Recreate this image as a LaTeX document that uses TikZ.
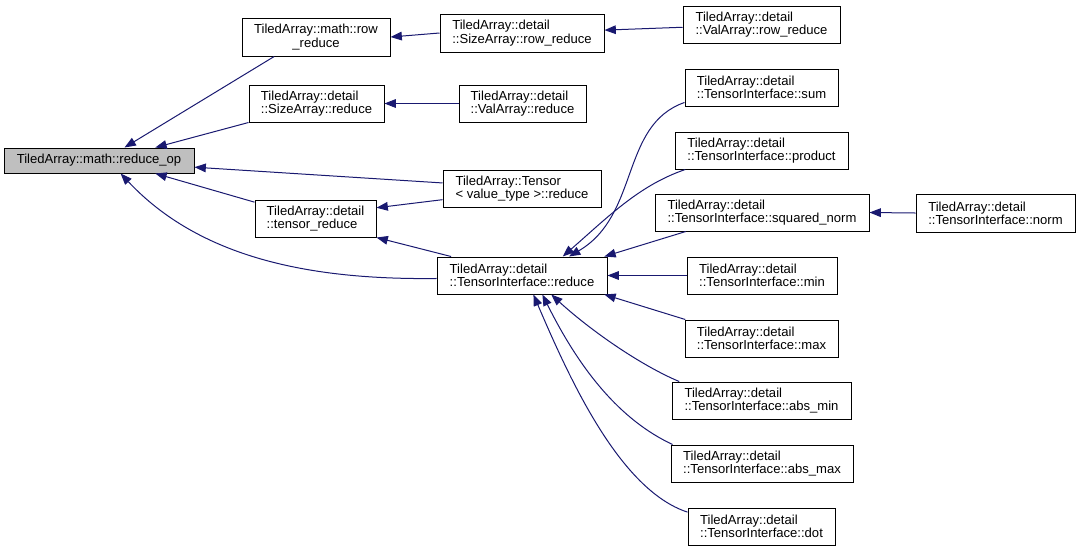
\documentclass[tikz,border=0pt]{standalone}
\usepackage{fontspec}
\setmainfont{Liberation Sans}
\usetikzlibrary{arrows.meta}
\definecolor{edgeblue}{HTML}{191970}
\definecolor{selgray}{HTML}{BFBFBF}

\begin{document}
\begin{tikzpicture}[x=0.75pt, y=-0.75pt,
        fn/.style={draw=black, line width=0.75pt, fill=white, inner sep=0pt,
            minimum height=27.75pt, align=left, font=\fontsize{9.8}{10}\selectfont},
        edge/.style={draw=edgeblue, line width=0.75pt,
            -{Triangle[length=8.5pt, width=6.5pt, fill=edgeblue]}}]
        % ==== CANVAS ====
        \useasboundingbox (0,0) rectangle (1081,551);

        % ==== FIRST COLUMN ====
        \node[fn, fill=selgray, minimum width=142.5pt, minimum height=18.75pt] (reduceop) at (99,160.5) {TiledArray::math::reduce\_op};

        % ==== SECOND COLUMN ====
        \node[fn, align=center, minimum width=111pt, minimum height=28.5pt] (mrow) at (316,37) {TiledArray::math::row\\\_reduce};
        \node[fn, minimum width=101.25pt] (sreduce) at (316.5,103.5) {TiledArray::detail\\::SizeArray::reduce};
        \node[fn, minimum width=90.75pt] (treduce) at (315.5,218.5) {TiledArray::detail\\::tensor\_reduce};

        % ==== THIRD COLUMN ====
        \node[fn, minimum width=123pt, minimum height=28.5pt] (srow) at (522,33) {TiledArray::detail\\::SizeArray::row\_reduce};
        \node[fn, minimum width=95.25pt] (vreduce) at (522.5,103.5) {TiledArray::detail\\::ValArray::reduce};
        \node[fn, minimum width=118.5pt] (tensor) at (522,188.5) {TiledArray::Tensor\\< value\_type >::reduce};
        \node[fn, minimum width=127.5pt] (tireduce) at (522,275.5) {TiledArray::detail\\::TensorInterface::reduce};

        % ==== FOURTH COLUMN ====
        \node[fn, minimum width=117.75pt] (vrow) at (761.5,24.5) {TiledArray::detail\\::ValArray::row\_reduce};
        \node[fn, minimum width=114.75pt] (sum) at (761.5,87.5) {TiledArray::detail\\::TensorInterface::sum};
        \node[fn, minimum width=129.75pt] (product) at (761.5,150.5) {TiledArray::detail\\::TensorInterface::product};
        \node[fn, minimum width=160.5pt] (sqnorm) at (762,212.5) {TiledArray::detail\\::TensorInterface::squared\_norm};
        \node[fn, minimum width=112.5pt] (min) at (762,275.5) {TiledArray::detail\\::TensorInterface::min};
        \node[fn, minimum width=114.75pt] (max) at (761.5,338.5) {TiledArray::detail\\::TensorInterface::max};
        \node[fn, minimum width=134.25pt] (absmin) at (761.5,400.5) {TiledArray::detail\\::TensorInterface::abs\_min};
        \node[fn, minimum width=136.5pt] (absmax) at (762,463.5) {TiledArray::detail\\::TensorInterface::abs\_max};
        \node[fn, minimum width=110.25pt] (dot) at (761.5,526.5) {TiledArray::detail\\::TensorInterface::dot};

        % ==== FIFTH COLUMN ====
        \node[fn, minimum width=119.25pt, minimum height=28.5pt] (norm) at (995.5,213) {TiledArray::detail\\::TensorInterface::norm};

        % ==== CALLERS OF REDUCE_OP ====
        \draw[edge] (mrow.-155) -- (reduceop.27);
        \draw[edge] (sreduce.south west) -- (reduceop.13);
        \draw[edge] (tensor.176) -- (reduceop.-4.5);
        \draw[edge] (treduce.165) -- (reduceop.-13);
        \draw[edge] (tireduce.182) .. controls (310,280) and (200,258) .. (reduceop.-31);

        % ==== SECOND LEVEL ====
        \draw[edge] (srow.west) -- (mrow.east);
        \draw[edge] (vrow.182) -- (srow.2);
        \draw[edge] (vreduce.west) -- (sreduce.east);
        \draw[edge] (tensor.188) -- (treduce.10);
        \draw[edge] (tireduce.165) -- (treduce.south east);

        % ==== CALLERS OF TENSORINTERFACE::REDUCE ====
        \draw[edge] (sum.191) .. controls (620,125) and (640,215) .. (tireduce.22);
        \draw[edge] (product.194) .. controls (640,185) and (610,215) .. (tireduce.25);
        \draw[edge] (sqnorm.194) -- (tireduce.13);
        \draw[edge] (min.west) -- (tireduce.east);
        \draw[edge] (max.166) -- (tireduce.-13);
        \draw[edge] (absmin.167) .. controls (640,365) and (590,330) .. (tireduce.-33);
        \draw[edge] (absmax.168) .. controls (620,420) and (580,370) .. (tireduce.-43);
        \draw[edge] (dot.169) .. controls (620,490) and (570,380) .. (tireduce.-59);
        \draw[edge] (norm.west) -- (sqnorm.east);
    \end{tikzpicture}
\end{document}
